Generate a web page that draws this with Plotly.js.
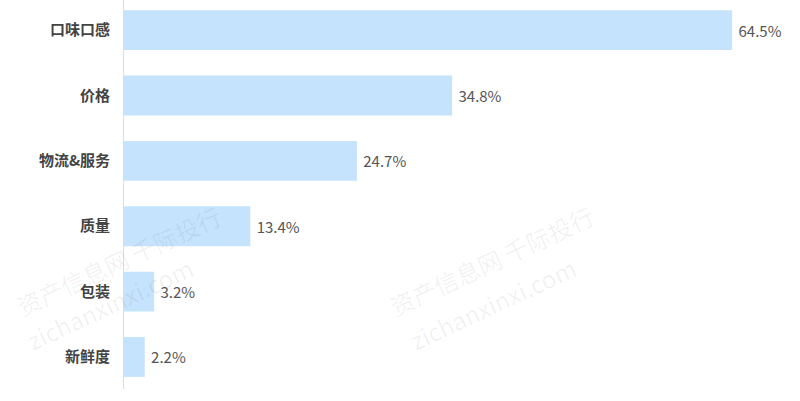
<!DOCTYPE html>
<html>
<head>
<meta charset="utf-8">
<script src="https://cdn.plot.ly/plotly-3.0.1.min.js"></script>
<style>html,body{margin:0;padding:0;background:#fff;}#chart{width:800px;height:401px;}</style>
</head>
<body>
<div id="chart"></div>
<script>
const categories = ["口味口感", "价格", "物流&服务", "质量", "包装", "新鲜度"];
const values = [64.5, 34.8, 24.7, 13.4, 3.2, 2.2];
const valueLabels = values.map(v => " " + v.toFixed(1) + "%");

const wmColor = "rgba(0,0,0,0.06)";
const wmFont = {family: "Noto Sans CJK SC, sans-serif", size: 24, color: wmColor};
const watermarks = [
  {x: 0.39, y: 0.33, text: "资产信息网 千际投行"},
  {x: 0.42, y: 0.22, text: "zichanxinxi.com"},
  {x: -0.175, y: 0.33, text: "资产信息网 千际投行"},
  {x: -0.16, y: 0.22, text: "zichanxinxi.com"}
].map(w => ({xref: "paper", yref: "paper", x: w.x, y: w.y, text: w.text, showarrow: false,
  textangle: -25, font: wmFont, xanchor: "left", yanchor: "middle"}));

const trace = {
  type: "bar",
  orientation: "h",
  y: categories,
  x: values,
  text: valueLabels,
  textposition: "outside",
  cliponaxis: false,
  textfont: {family: "Noto Sans CJK SC, sans-serif", size: 15, color: "#555555"},
  marker: {color: "#c6e3fd"},
  hoverinfo: "none"
};

const layout = {
  width: 800, height: 401,
  margin: {l: 124, r: 16, t: 0, b: 12},
  paper_bgcolor: "#ffffff",
  plot_bgcolor: "#ffffff",
  bargap: 0.39,
  showlegend: false,
  xaxis: {range: [0, 70], visible: false, showgrid: false, zeroline: false, fixedrange: true},
  yaxis: {
    type: "category",
    range: [5.49, -0.46],
    showgrid: false, zeroline: false,
    showline: true, linecolor: "#dddddd", linewidth: 1,
    ticks: "", ticklen: 0,
    tickfont: {family: "Noto Sans CJK SC, sans-serif", size: 15, color: "#444444", weight: "bold"},
    ticklabelstandoff: 10
  },
  annotations: watermarks
};

Plotly.newPlot("chart", [trace], layout, {staticPlot: true, displayModeBar: false});
</script>
</body>
</html>
